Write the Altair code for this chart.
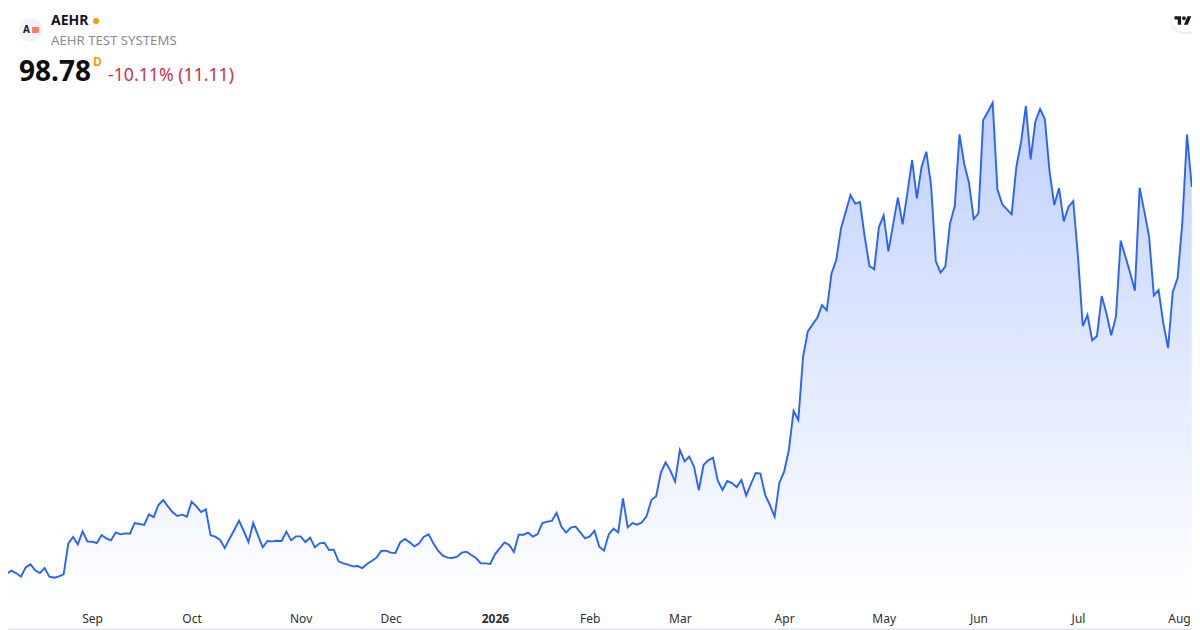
import altair as alt
import pandas as pd

prices = [
    18.02, 17.74, 18.37, 17.81, 17.11, 19.06, 19.69, 18.44, 17.88, 18.92,
    17.11, 16.90, 17.18, 17.60, 24.09, 25.42, 23.89, 26.61, 24.51, 24.44,
    24.16, 25.84, 25.14, 24.72, 26.40, 25.98, 26.19, 26.12, 28.36, 28.15,
    27.94, 30.17, 29.61, 32.13, 33.18, 31.85, 30.59, 29.82, 30.10, 29.68,
    32.83, 31.85, 30.66, 31.22, 25.77, 25.49, 24.79, 23.12, 25.07, 26.89,
    28.85, 26.68, 24.37, 28.36, 25.77, 23.26, 24.58, 24.51, 24.65, 24.58,
    26.54, 24.72, 25.56, 25.56, 24.37, 25.28, 23.26, 24.09, 24.23, 22.70,
    22.77, 20.32, 19.90, 19.62, 19.27, 19.34, 18.92, 19.76, 20.39, 21.09,
    22.49, 22.56, 22.14, 22.07, 24.30,
    25.00, 24.30, 23.47, 24.09, 25.49, 25.98, 24.09, 22.56, 21.51, 21.09,
    21.02, 21.30, 22.14, 22.35, 21.65, 21.02, 19.90, 19.90, 19.76, 21.79,
    23.05, 24.30, 23.74, 22.28, 25.91, 25.91, 26.33, 25.49, 26.05, 28.36,
    28.64, 28.78, 30.52, 27.59, 26.33, 27.38, 27.59, 26.40, 25.14, 25.56,
    26.75, 23.40, 22.56, 25.98, 27.17, 26.40, 33.53, 27.45, 28.36, 28.01,
    28.50, 29.82, 33.18, 33.95, 38.91, 41.07, 39.33, 37.02, 43.66, 41.28,
    42.26, 40.16, 35.20, 40.51, 41.49, 42.05, 37.23, 35.27, 37.16, 36.74,
    35.90, 37.37, 34.09, 36.53, 38.84, 38.70, 34.23, 32.13, 29.68, 36.81,
    39.12, 43.66,
    51.83, 49.94, 63.21, 68.52, 69.99, 71.39, 74.04, 72.93, 80.68, 83.48,
    90.11, 93.61, 97.10, 95.28, 95.63, 88.37, 82.22, 81.52, 90.39, 92.84,
    85.29, 90.95, 96.54, 90.95, 97.45, 104.44, 96.40, 103.04, 106.18, 99.20,
    83.27, 80.82, 82.08, 91.16, 94.80, 109.82, 103.60, 99.69, 92.07, 93.26,
    112.82, 114.57, 116.45, 98.29, 95.21, 94.10, 93.05, 103.04, 108.28, 115.76,
    104.58, 112.47, 115.13, 113.03, 101.99, 95.00, 98.57, 91.58, 94.66, 95.84,
    84.17, 69.64, 71.95, 66.64, 67.55, 75.93, 72.30, 67.69, 71.60, 87.53,
    84.17, 80.82, 77.05, 98.64, 93.61, 88.37, 76.07, 77.19, 70.20, 65.03,
    76.84, 79.63, 91.16, 109.75, 98.78,
]
tick_session = [19, 40, 63, 82, 104, 124, 143, 165, 186, 206, 227, 248.3]
tick_labels = ["Sep", "Oct", "Nov", "Dec", "2026", "Feb", "Mar", "Apr", "May", "Jun", "Jul", "Aug"]

df = pd.DataFrame({"session": range(len(prices)), "price": prices})
df["base"] = 11.2

W, H = 1184, 622
x_scale = alt.Scale(domain=[1.266, 251.05], nice=False, zero=False)
y_scale = alt.Scale(domain=[5.93, 136.30], nice=False, zero=False)
label_expr = " : ".join(f"datum.value === {k} ? '{v}'" for k, v in zip(tick_session, tick_labels)) + " : ''"

x_axis = alt.Axis(
    values=tick_session, labelExpr=label_expr, title=None, grid=False, zindex=2,
    domain=False, ticks=False, offset=-20, labelPadding=3, labelFontSize=12,
    labelColor="#2e2e2e", labelFont="Noto Sans", labelOverlap=False, labelFlush=False,
    labelFontWeight={"condition": {"test": "datum.value == 104", "value": "bold"}, "value": "normal"},
)
base = alt.Chart(df)
area = base.mark_area(
    clip=True,
    color=alt.Gradient(
        gradient="linear", x1=0, y1=0, x2=0, y2=1,
        stops=[alt.GradientStop(color="rgba(41,98,255,0.29)", offset=0),
               alt.GradientStop(color="rgba(41,98,255,0.0)", offset=1)],
    ),
).encode(
    x=alt.X("session:Q", scale=x_scale, axis=x_axis),
    y=alt.Y("price:Q", scale=y_scale, axis=None),
    y2="base:Q",
)
line = base.mark_line(clip=True, color="#2962FF", strokeWidth=1.9, strokeJoin="miter").encode(
    x=alt.X("session:Q", scale=x_scale, axis=x_axis),
    y=alt.Y("price:Q", scale=y_scale, axis=None),
)


def one():
    return alt.Chart(pd.DataFrame({"t": [""]}))


def txt(s, px, py, size, weight, color):
    return alt.Chart(pd.DataFrame({"t": [s]})).mark_text(
        align="left", baseline="alphabetic", fontSize=size, fontWeight=weight, color=color, font="Noto Sans"
    ).encode(x=alt.value(px - 8), y=alt.value(py - 8), text="t:N")


def box(x0, x1, y0, y1, fill, r=0):
    return one().mark_rect(color=fill, cornerRadius=r).encode(
        x=alt.value(x0 - 8), x2=alt.value(x1 - 8), y=alt.value(y0 - 8), y2=alt.value(y1 - 8)
    )


def dot(px, py, size, fill, shape="circle"):
    return one().mark_point(shape=shape, filled=True, size=size, color=fill, opacity=1).encode(
        x=alt.value(px - 8), y=alt.value(py - 8)
    )


tv_path = ("M-.222 .5L-.611 .5L-.611 -.111L-1 -.111L-1 -.5L-.222 -.5Z"
           "M.556 .5L.111 .5L.528 -.5L.972 -.5Z"
           "M.333 -.278A.222 .222 0 1 1 -.111 -.278A.222 .222 0 1 1 .333 -.278Z")
layers = [
    box(8, 1210, 628.5, 630, "#e0e3eb"),
    area, line,
    dot(31, 30, 576, "#f0f3fa"),
    txt("A", 23, 33, 10, "bold", "#131722"),
    box(32, 39, 27, 33, "#ff7f5c"),
    txt("AEHR", 51, 25, 14, "bold", "#131722"),
    dot(96, 21, 36, "#ff9800"),
    txt("AEHR TEST SYSTEMS", 51, 45, 13.2, "normal", "#8c8c8c"),
    txt("98.78", 19, 81, 28, "bold", "#0f0f0f"),
    txt("D", 93, 66, 12, "bold", "#ff9800"),
    txt("-10.11% (11.11)", 108, 81, 17.7, "normal", "#d32f45"),
    box(1171, 1210, 10, 34, "#eeeeee", 12),
    box(1172, 1210, 8, 32, "#ffffff", 12),
    one().mark_point(shape=tv_path, filled=True, size=289, color="#131722", opacity=1).encode(
        x=alt.value(1183 - 8), y=alt.value(20.5 - 8)
    ),
]
chart = alt.layer(*layers).properties(
    width=W, height=H, padding=0, background="#ffffff",
    autosize=alt.AutoSizeParams(type="none"),
).configure_view(stroke=None)
chart.save("out.html", embed_options={"renderer": "svg", "actions": False})
